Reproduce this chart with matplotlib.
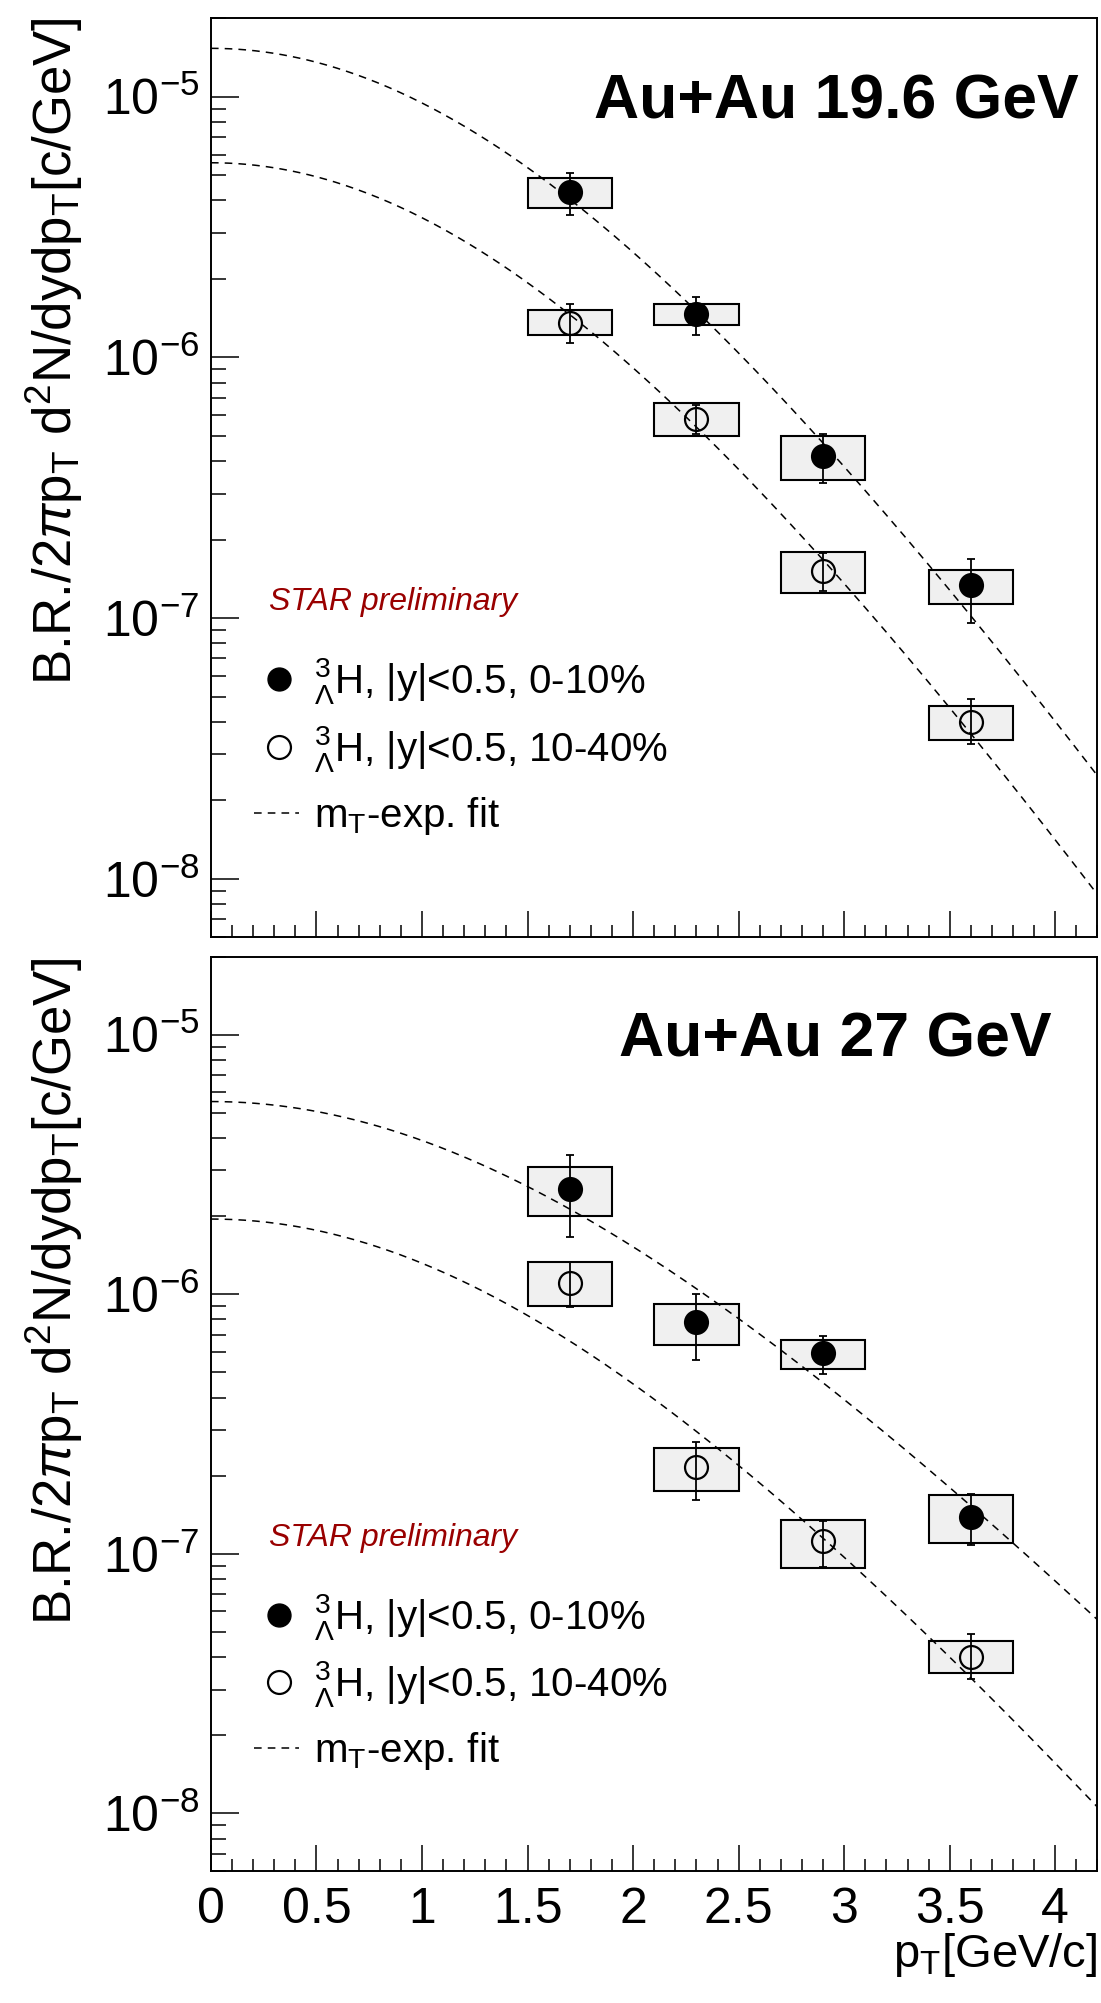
import numpy as np
import matplotlib
matplotlib.use("Agg")
import matplotlib.pyplot as plt
from matplotlib.ticker import LogLocator, MultipleLocator, NullFormatter, FormatStrFormatter

plt.rcParams['font.family'] = ['Liberation Sans', 'DejaVu Sans']
plt.rcParams['mathtext.fontset'] = 'custom'
plt.rcParams['mathtext.rm'] = 'Liberation Sans'
plt.rcParams['mathtext.it'] = 'Liberation Sans:italic'
plt.rcParams['mathtext.bf'] = 'Liberation Sans:bold'
plt.rcParams['mathtext.sf'] = 'Liberation Sans'

# hypertriton pT bins (GeV/c)
pt = [1.7, 2.3, 2.9, 3.6]
box_halfwidth = 0.2

# Au+Au 19.6 GeV, 0-10%
y196_c = [4.3e-6, 1.47e-6, 4.2e-7, 1.34e-7]
y196_c_stat_lo = [3.52e-6, 1.22e-6, 3.29e-7, 9.6e-8]
y196_c_stat_hi = [5.10e-6, 1.71e-6, 5.09e-7, 1.69e-7]
y196_c_sys_lo = [3.75e-6, 1.33e-6, 3.39e-7, 1.13e-7]
y196_c_sys_hi = [4.87e-6, 1.60e-6, 5.0e-7, 1.53e-7]
# Au+Au 19.6 GeV, 10-40%
y196_p = [1.36e-6, 5.8e-7, 1.52e-7, 3.98e-8]
y196_p_stat_lo = [1.14e-6, 5.09e-7, 1.27e-7, 3.28e-8]
y196_p_stat_hi = [1.60e-6, 6.58e-7, 1.78e-7, 4.9e-8]
y196_p_sys_lo = [1.22e-6, 5.0e-7, 1.25e-7, 3.4e-8]
y196_p_sys_hi = [1.52e-6, 6.67e-7, 1.80e-7, 4.6e-8]

# Au+Au 27 GeV, 0-10%
y27_c = [2.55e-6, 7.8e-7, 5.94e-7, 1.39e-7]
y27_c_stat_lo = [1.66e-6, 5.59e-7, 4.93e-7, 1.08e-7]
y27_c_stat_hi = [3.44e-6, 1.0e-6, 6.92e-7, 1.70e-7]
y27_c_sys_lo = [2.0e-6, 6.38e-7, 5.15e-7, 1.10e-7]
y27_c_sys_hi = [3.09e-6, 9.2e-7, 6.69e-7, 1.69e-7]
# Au+Au 27 GeV, 10-40%
y27_p = [1.11e-6, 2.16e-7, 1.12e-7, 4.02e-8]
y27_p_stat_lo = [8.9e-7, 1.61e-7, 8.9e-8, 3.3e-8]
y27_p_stat_hi = [1.33e-6, 2.70e-7, 1.34e-7, 4.9e-8]
y27_p_sys_lo = [9.0e-7, 1.75e-7, 8.8e-8, 3.48e-8]
y27_p_sys_hi = [1.33e-6, 2.56e-7, 1.35e-7, 4.62e-8]

# mT-exponential fit parameters: (amplitude, T [GeV])
M0 = 2.991
fit196 = [(1.533e-5, 0.337), (5.58e-6, 0.335)]
fit27 = [(5.53e-6, 0.471), (1.95e-6, 0.415)]

XMIN, XMAX = 0.0, 4.2
YMIN, YMAX = 6e-9, 2e-5

ylabel = r"B.R./2$\pi$p$_{\rm T}$ d$^{2}$N/dydp$_{\rm T}$[c/GeV]"
leg_c = r"${}^{3}_{\Lambda}$H, |y|<0.5, 0-10%"
leg_p = r"${}^{3}_{\Lambda}$H, |y|<0.5, 10-40%"
leg_fit = r"m$_{\rm T}$-exp. fit"


def mt_exp(p, A, T):
    return A * np.exp(-(np.sqrt(p ** 2 + M0 ** 2) - M0) / T)


def draw_series(ax, y, slo, shi, blo, bhi, filled):
    y = np.array(y)
    blo, bhi = np.array(blo), np.array(bhi)
    ax.bar(pt, bhi - blo, bottom=blo, width=2 * box_halfwidth,
           color="#f0f0f0", edgecolor="black", linewidth=1.5, zorder=2)
    ax.errorbar(pt, y, yerr=[y - np.array(slo), np.array(shi) - y], fmt="none",
                ecolor="black", elinewidth=1.3, capsize=3, capthick=1.3, zorder=4)
    ax.plot(pt, y, "o", ms=16.5, mfc="black" if filled else "none",
            mec="black", mew=1.6, zorder=5)


def draw_panel(ax, series, fits, title, title_x):
    for s in series:
        draw_series(ax, *s)
    xs = np.linspace(XMIN, XMAX, 400)
    for A, T in fits:
        ax.plot(xs, mt_exp(xs, A, T), color="black", lw=1.1,
                dashes=(5, 4), zorder=3)

    ax.set_yscale("log")
    ax.set_xlim(XMIN, XMAX)
    ax.set_ylim(YMIN, YMAX)
    ax.yaxis.set_major_locator(LogLocator(base=10, numticks=20))
    ax.yaxis.set_minor_locator(LogLocator(base=10, subs=np.arange(2, 10), numticks=20))
    ax.yaxis.set_minor_formatter(NullFormatter())
    ax.xaxis.set_major_locator(MultipleLocator(0.5))
    ax.xaxis.set_minor_locator(MultipleLocator(0.1))
    ax.xaxis.set_major_formatter(FormatStrFormatter("%g"))
    ax.tick_params(which="both", direction="in", top=False, right=False,
                   width=1.1, labelsize=36)
    ax.tick_params(axis="y", which="major", length=20, pad=8.5)
    ax.tick_params(axis="y", which="minor", length=10.5)
    ax.tick_params(axis="x", which="major", length=18.5, pad=11.5)
    ax.tick_params(axis="x", which="minor", length=9)
    for sp in ax.spines.values():
        sp.set_linewidth(1.4)

    ax.text(title_x, 0.891, title, transform=ax.transAxes, ha="right",
            va="baseline", fontsize=45, fontweight="bold")
    ax.text(0.0654, 0.3557, "STAR preliminary", transform=ax.transAxes,
            fontsize=23, style="italic", color="#990000", va="baseline")

    # legend
    lx, tx = 0.0764, 0.116
    ax.plot([lx], [0.2803], "o", ms=16.5, mfc="black", mec="black",
            transform=ax.transAxes)
    ax.plot([lx], [0.2069], "o", ms=16.5, mfc="none", mec="black", mew=1.6,
            transform=ax.transAxes)
    ax.plot([0.049, 0.0988], [0.1344, 0.1344], color="black", lw=1.1,
            dashes=(5, 4), transform=ax.transAxes)
    for yy, lab in [(0.2803, leg_c), (0.2069, leg_p), (0.1344, leg_fit)]:
        ax.text(tx, yy - 0.0153, lab, transform=ax.transAxes, fontsize=29,
                va="baseline", ha="left")


fig = plt.figure(figsize=(11.01, 20.03), dpi=100)
ax1 = fig.add_axes([0.1916, 0.5324, 0.8052, 0.4585])
ax2 = fig.add_axes([0.1916, 0.0659, 0.8052, 0.4565])

draw_panel(ax1,
           [(y196_c, y196_c_stat_lo, y196_c_stat_hi, y196_c_sys_lo, y196_c_sys_hi, True),
            (y196_p, y196_p_stat_lo, y196_p_stat_hi, y196_p_sys_lo, y196_p_sys_hi, False)],
           fit196, "Au+Au 19.6 GeV", 0.979)
draw_panel(ax2,
           [(y27_c, y27_c_stat_lo, y27_c_stat_hi, y27_c_sys_lo, y27_c_sys_hi, True),
            (y27_p, y27_p_stat_lo, y27_p_stat_hi, y27_p_sys_lo, y27_p_sys_hi, False)],
           fit27, "Au+Au 27 GeV", 0.948)
ax1.tick_params(axis="x", labelbottom=False)

# axis titles, aligned to the top of each panel / right end of the x axis
fig.text(24 / 1101, 1 - 17 / 2003, ylabel, rotation=90, ha="left", va="top", fontsize=38)
fig.text(24 / 1101, 1 - 957 / 2003, ylabel, rotation=90, ha="left", va="top", fontsize=38)
fig.text(1097 / 1101, 1 - 1967 / 2003, r"p$_{\rm T}$[GeV/c]", ha="right",
         va="baseline", fontsize=34)

fig.savefig("out.png", dpi=100)
